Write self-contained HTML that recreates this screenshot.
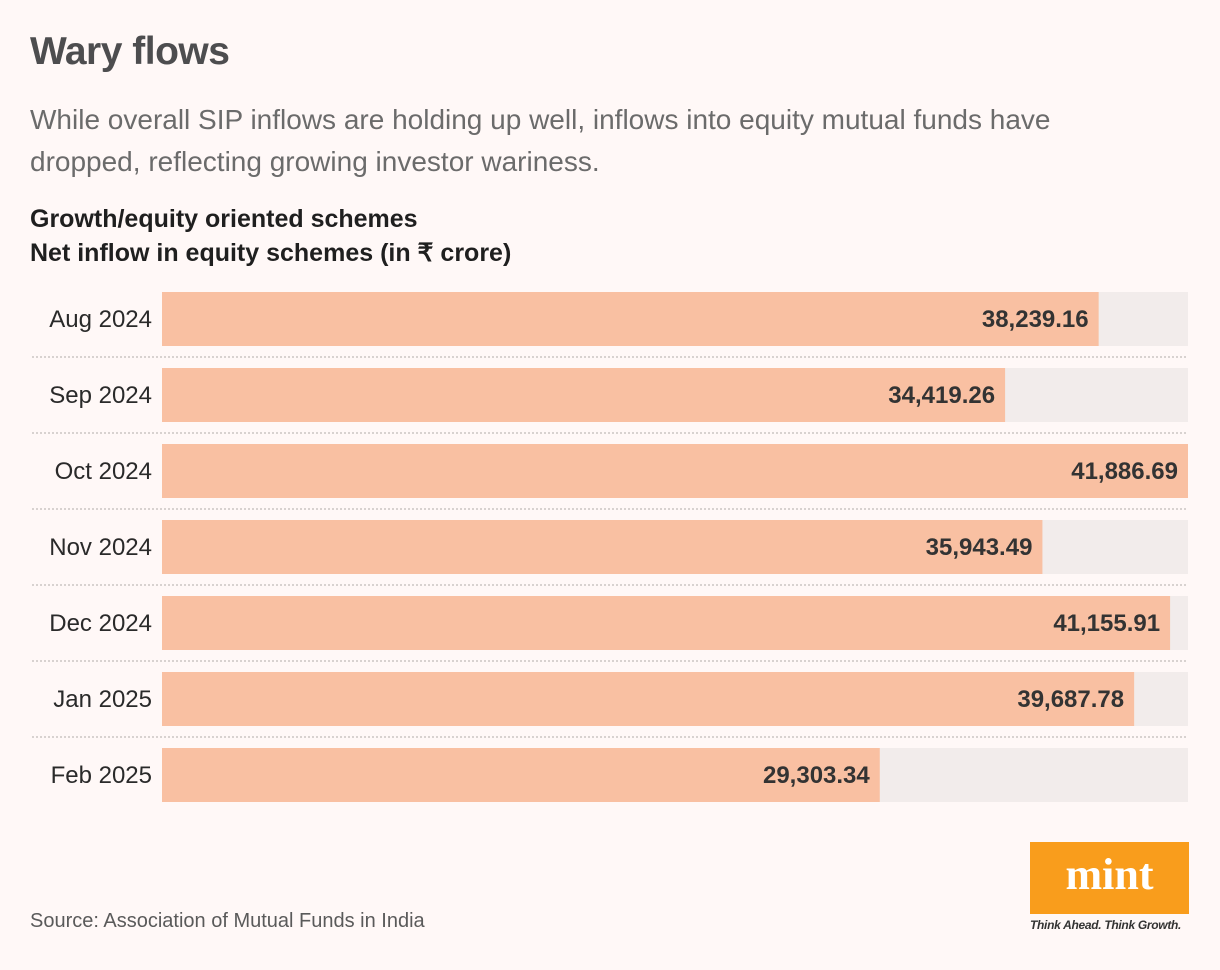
<!DOCTYPE html>
<html><head><meta charset="utf-8"><style>
body{margin:0;width:1220px;height:970px;background:#fff8f7;font-family:"Liberation Sans",sans-serif;overflow:hidden;position:relative}
.t{position:absolute;left:30px;top:30px;font-size:39px;font-weight:bold;color:#4d4d4f;letter-spacing:-0.5px}
.s{position:absolute;left:30px;top:99px;font-size:28px;line-height:42px;color:#6b6b6b;width:1110px}
.h{position:absolute;left:30px;top:202px;font-size:25px;line-height:34px;font-weight:bold;color:#1f1f1f}
.src{position:absolute;left:30px;top:910px;font-size:20px;color:#5a5a5a}
.logo{position:absolute;left:1030px;top:842px;width:159px;height:72px;background:#f99d1c;color:#fff;font-family:"Liberation Serif",serif;font-weight:bold;font-size:44px;text-align:center;line-height:66px}
.tag{position:absolute;left:1030px;top:918px;font-size:12px;font-style:italic;font-weight:bold;color:#333;letter-spacing:-0.3px}
svg{position:absolute;left:0;top:0}
</style></head><body>
<div class="t">Wary flows</div>
<div class="s">While overall SIP inflows are holding up well, inflows into equity mutual funds have dropped, reflecting growing investor wariness.</div>
<div class="h">Growth/equity oriented schemes<br>Net inflow in equity schemes (in ₹ crore)</div>
<svg id="c" width="1220" height="970"></svg>
<div class="src">Source: Association of Mutual Funds in India</div>
<div class="logo">mint</div>
<div class="tag">Think Ahead. Think Growth.</div>
<script>
const categories=["Aug 2024","Sep 2024","Oct 2024","Nov 2024","Dec 2024","Jan 2025","Feb 2025"];
const values=[38239.16,34419.26,41886.69,35943.49,41155.91,39687.78,29303.34];
const labels=["38,239.16","34,419.26","41,886.69","35,943.49","41,155.91","39,687.78","29,303.34"];
const svg=document.getElementById('c');
const NS="http://www.w3.org/2000/svg";
const x0=162,x1=1188,top0=292,step=76,bh=54;
const maxV=Math.max(...values);
const xs=v=>x0+(x1-x0)*v/maxV;
const ys=i=>top0+i*step;
function mk(t,a){const e=document.createElementNS(NS,t);for(const k in a)e.setAttribute(k,a[k]);svg.appendChild(e);return e;}
categories.forEach((c,i)=>{
  const y=ys(i);
  const tr=mk('rect',{x:x0,y:y,width:x1-x0,height:bh,fill:'#f2eceb'});
  
  
  const b=mk('rect',{x:x0,y:y,width:xs(values[i])-x0,height:bh,fill:'#f9c0a2'});
  
  
  const l=mk('text',{x:152,y:y+bh/2+8,'text-anchor':'end','font-size':24,fill:'#2a2a2a'});
  l.textContent=c;
  
  
  const v=mk('text',{x:xs(values[i])-10,y:y+bh/2+8,'text-anchor':'end','font-size':24,'font-weight':'bold',fill:'#333'});
  v.textContent=labels[i];
  
  
  if(i<categories.length-1){
    const d=mk('line',{x1:32,x2:x1,y1:y+bh+11,y2:y+bh+11,stroke:'#d8d2d0','stroke-width':2,'stroke-dasharray':'2 2'});
    
    
  }
});
</script>
</body></html>
